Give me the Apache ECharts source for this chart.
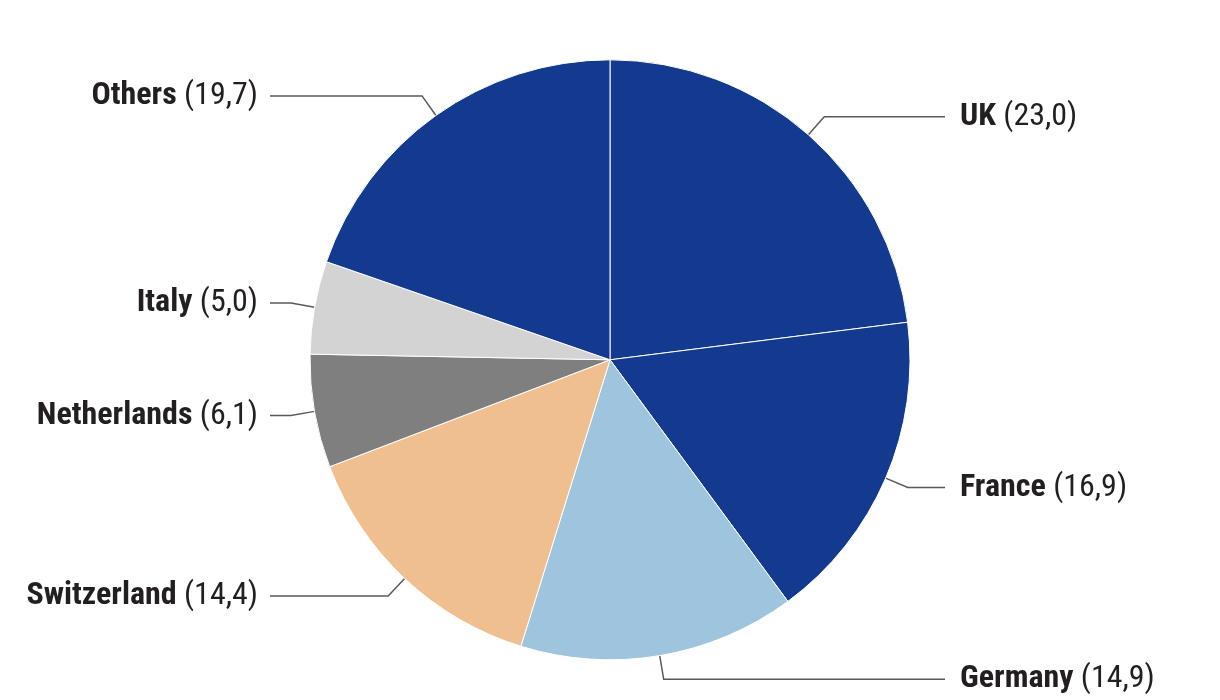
<!DOCTYPE html>
<html>
<head>
<meta charset="utf-8">
<script src="https://cdn.jsdelivr.net/npm/echarts@6/dist/echarts.min.js"></script>
<style>
html,body{margin:0;padding:0;background:#fff;}
#chart{width:1220px;height:700px;}
</style>
</head>
<body>
<div id="chart"></div>
<script>
const categories = ['UK', 'France', 'Germany', 'Switzerland', 'Netherlands', 'Italy', 'Others'];
const values = [23.0, 16.9, 14.9, 14.4, 6.1, 5.0, 19.7];
const colors = ['#133a8f', '#133a8f', '#9fc5de', '#f0bf8f', '#7f7f7f', '#d3d3d3', '#133a8f'];

const W = 1220;
const cx = W / 2;
const chart = echarts.init(document.getElementById('chart'), null, {renderer: 'canvas'});
const FONT = '"Roboto Condensed", Roboto, sans-serif';

chart.setOption({
  backgroundColor: '#ffffff',
  animation: false,
  series: [{
    type: 'pie',
    center: ['50%', '51.4%'],
    radius: 300,
    startAngle: 90,
    clockwise: true,
    data: categories.map((c, i) => ({name: c, value: values[i], itemStyle: {color: colors[i]}})),
    itemStyle: {borderColor: '#ffffff', borderWidth: 1},
    emphasis: {disabled: true},
    label: {
      show: true,
      position: 'outside',
      distanceToLabelLine: 12,
      fontFamily: FONT,
      formatter: p => '{b|' + p.name + ' }{v|(' + p.value.toFixed(1).replace('.', ',') + ')}',
      rich: {
        b: {fontFamily: FONT, fontWeight: 'bold', fontSize: 32, color: '#231f20'},
        v: {fontFamily: FONT, fontWeight: 'normal', fontSize: 32, color: '#231f20'}
      }
    },
    labelLine: {
      show: true,
      length: 24,
      length2: 30,
      smooth: false,
      lineStyle: {color: '#595959', width: 1.5}
    },
    labelLayout: function (params) {
      const pts = params.labelLinePoints;
      if (!pts) return {};
      const right = pts[2][0] > pts[1][0] || (pts[2][0] === pts[1][0] && pts[1][0] > cx);
      const lineEnd = right ? cx + 335 : cx - 340;
      const newPts = [pts[0], pts[1], [lineEnd, pts[2][1]]];
      return {
        x: right ? lineEnd + 15 : lineEnd - 12,
        y: pts[2][1],
        align: right ? 'left' : 'right',
        verticalAlign: 'middle',
        labelLinePoints: newPts
      };
    }
  }]
});
</script>
</body>
</html>
